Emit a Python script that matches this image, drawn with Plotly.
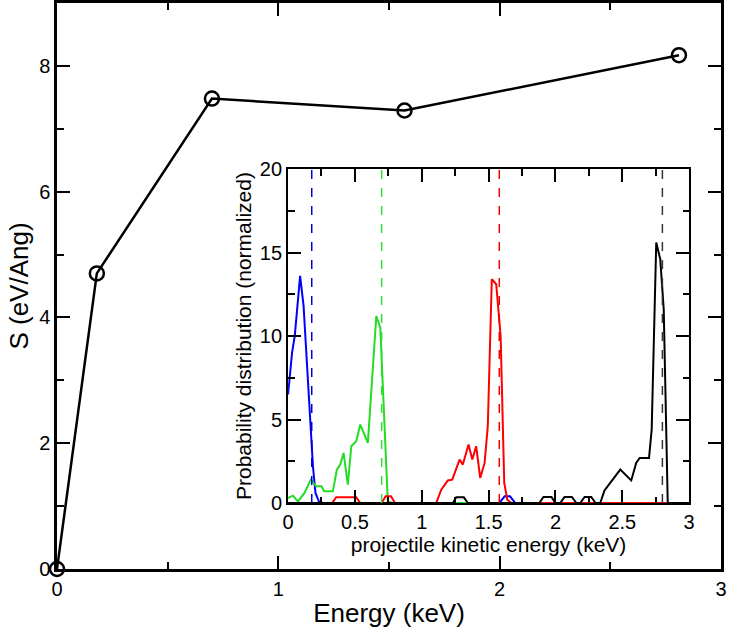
import plotly.graph_objects as go

# ---- main panel data ----
energy_keV = [0.0, 0.18, 0.70, 1.57, 2.81]
stopping_S = [0.0, 4.70, 7.48, 7.29, 8.17]

# ---- inset: probability distributions ----
blue_x = [0.0, 0.03, 0.05, 0.09, 0.116, 0.166, 0.186, 0.205, 0.23, 0.26, 1.58, 1.62, 1.66, 1.70, 3.0]
blue_y = [6.5, 9.0, 10.0, 13.6, 11.8, 5.2, 2.2, 0.6, 0.1, 0.0, 0.0, 0.4, 0.4, 0.0, 0.0]

green_x = [0.0, 0.036, 0.074, 0.123, 0.17, 0.21, 0.25, 0.27, 0.335, 0.365, 0.39, 0.415, 0.447,
           0.473, 0.51, 0.54, 0.597, 0.66, 0.69, 0.746, 0.78, 3.0]
green_y = [0.3, 0.44, 0.1, 0.6, 1.4, 1.0, 1.0, 0.7, 0.7, 2.0, 2.3, 3.0, 1.1,
           3.4, 3.7, 4.7, 3.6, 11.2, 10.5, 0.1, 0.0, 0.0]

red_x = [0.0, 0.33, 0.36, 0.51, 0.54, 0.70, 0.73, 0.77, 0.80, 1.108, 1.146, 1.195, 1.228, 1.283,
         1.307, 1.35, 1.378, 1.407, 1.437, 1.47, 1.494, 1.524, 1.557, 1.59, 1.617, 1.64, 1.67, 3.0]
red_y = [0.0, 0.0, 0.35, 0.35, 0.0, 0.0, 0.4, 0.4, 0.0, 0.0, 0.8, 1.35, 1.4, 2.6,
         2.3, 3.5, 2.6, 3.4, 1.5, 2.4, 4.6, 13.4, 13.1, 10.0, 1.2, 0.2, 0.0, 0.0]

black_x = [0.0, 1.233, 1.258, 1.315, 1.345, 1.88, 1.91, 1.97, 2.00, 2.036, 2.068, 2.123, 2.156,
           2.186, 2.218, 2.268, 2.30, 2.335, 2.367, 2.485, 2.567, 2.604, 2.63, 2.70, 2.72,
           2.754, 2.784, 2.81, 2.84, 3.0]
black_y = [0.0, 0.0, 0.34, 0.34, 0.0, 0.0, 0.36, 0.36, 0.0, 0.0, 0.36, 0.36, 0.0,
           0.0, 0.36, 0.36, 0.0, 0.0, 0.75, 2.0, 1.35, 2.4, 2.7, 2.7, 4.4,
           15.6, 14.6, 11.6, 0.0, 0.0]

mean_energy = [0.177, 0.70, 1.58, 2.80]
series_colors = ["#0000ff", "#22dd22", "#ff0000", "#000000"]
dash_colors = ["#0000cc", "#33dd33", "#ee0000", "#333333"]

FONT = "Liberation Sans, Arial, Helvetica, sans-serif"

fig = go.Figure()

fig.add_trace(go.Scatter(
    x=energy_keV, y=stopping_S, mode="lines+markers",
    line=dict(color="black", width=2.5),
    marker=dict(symbol="circle-open", size=14, color="black", line=dict(width=2.5)),
    cliponaxis=False, xaxis="x", yaxis="y", showlegend=False))

for xs, ys, c in [(blue_x, blue_y, series_colors[0]), (green_x, green_y, series_colors[1]),
                  (red_x, red_y, series_colors[2]), (black_x, black_y, series_colors[3])]:
    fig.add_trace(go.Scatter(x=xs, y=ys, mode="lines", line=dict(color=c, width=2),
                             xaxis="x2", yaxis="y2", showlegend=False))

for e, c in zip(mean_energy, dash_colors):
    fig.add_trace(go.Scatter(x=[e, e], y=[0, 20], mode="lines",
                             line=dict(color=c, width=1.5, dash="dash"),
                             xaxis="x2", yaxis="y2", showlegend=False))

axis_common = dict(showline=True, linecolor="black", linewidth=2.5, mirror="allticks",
                   ticks="inside", tickcolor="black", tickwidth=1.5, ticklen=13,
                   showgrid=False, zeroline=False, automargin=False)

fig.update_layout(
    width=729, height=630,
    margin=dict(l=57, r=8, t=3, b=61, autoexpand=False),
    paper_bgcolor="white", plot_bgcolor="white",
    font=dict(family=FONT, color="black", size=18),
    xaxis=dict(axis_common, range=[0, 3], dtick=1, tick0=0,
               minor=dict(dtick=0.5, ticklen=7, tickcolor="black", ticks="inside"),
               title=dict(text="Energy (keV)", font=dict(size=26), standoff=6),
               tickfont=dict(size=20), domain=[0, 1]),
    yaxis=dict(axis_common, range=[0, 9], dtick=2, tick0=0,
               minor=dict(dtick=1, ticklen=7, tickcolor="black", ticks="inside"),
               title=dict(text="S (eV/Ang)", font=dict(size=26), standoff=4),
               tickfont=dict(size=20), domain=[0, 1]),
    xaxis2=dict(axis_common, anchor="y2", range=[0, 3], dtick=0.5, tick0=0, linewidth=2,
                minor=dict(dtick=0.25, ticklen=6.5, tickcolor="black", ticks="inside"),
                title=dict(text="projectile kinetic energy (keV)", font=dict(size=21), standoff=0),
                tickfont=dict(size=20), domain=[0.348, 0.952]),
    yaxis2=dict(axis_common, anchor="x2", range=[0, 20], dtick=5, tick0=0, linewidth=2,
                minor=dict(dtick=2.5, ticklen=6.5, tickcolor="black", ticks="inside"),
                title=dict(text="Probability distribution (normalized)", font=dict(size=21), standoff=2),
                tickfont=dict(size=20), domain=[0.1166, 0.7067]),
)

fig.write_html("out.html", config={"displayModeBar": False},
               post_script="document.body.style.margin='0';")
